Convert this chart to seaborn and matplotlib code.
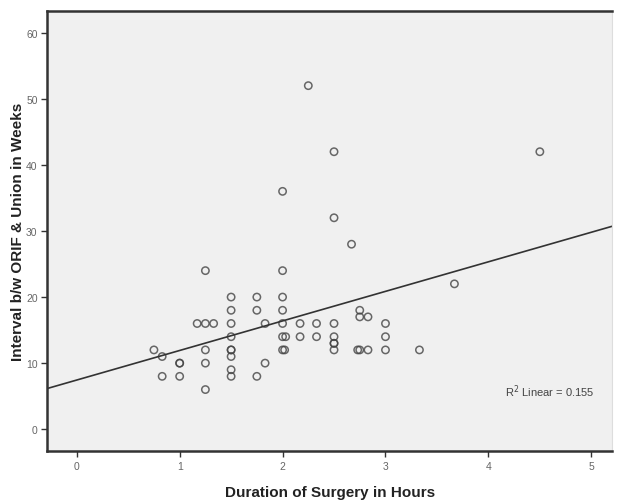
import matplotlib
matplotlib.use("Agg")
import matplotlib.pyplot as plt
import seaborn as sns
import numpy as np
import pandas as pd

# Duration of surgery (hours) and interval to union (weeks)
duration = [2.25, 2.5, 4.5, 2.0, 2.5, 2.67, 1.25, 2.0, 3.67,
            1.5, 1.75, 2.0,
            1.5, 1.75, 2.0, 2.75,
            2.75, 2.83,
            1.17, 1.25, 1.33, 1.5, 1.83, 2.0, 2.17, 2.33, 2.5, 3.0,
            1.5, 2.0, 2.03, 2.17, 2.33, 2.5, 3.0,
            2.5, 2.5,
            0.75, 1.25, 1.5, 1.5, 2.0, 2.02, 2.5, 2.73, 2.75, 2.83, 3.0, 3.33,
            0.83, 1.5,
            1.0, 1.0, 1.25, 1.83,
            1.5,
            0.83, 1.0, 1.5, 1.75,
            1.25]
weeks = [52, 42, 42, 36, 32, 28, 24, 24, 22,
         20, 20, 20,
         18, 18, 18, 18,
         17, 17,
         16, 16, 16, 16, 16, 16, 16, 16, 16, 16,
         14, 14, 14, 14, 14, 14, 14,
         13, 13,
         12, 12, 12, 12, 12, 12, 12, 12, 12, 12, 12, 12,
         11, 11,
         10, 10, 10, 10,
         9,
         8, 8, 8, 8,
         6]
x_ticks = [0, 1, 2, 3, 4, 5]
y_ticks = [0, 10, 20, 30, 40, 50, 60]
r2_label = "R$^2$ Linear = 0.155"

df = pd.DataFrame({"duration": duration, "weeks": weeks})

sns.set_theme(style="ticks")
plt.rcParams["font.family"] = ["Liberation Sans", "DejaVu Sans"]

fig = plt.figure(figsize=(6.17, 5.02), dpi=100)
fig.patch.set_facecolor("white")
ax = fig.add_axes([0.0767, 0.0996, 0.915, 0.8765])
ax.set_facecolor("#f0f0f0")
ax.set_xlim(-0.286, 5.2)
ax.set_ylim(-3.3, 63.3)

sns.regplot(data=df, x="duration", y="weeks", ax=ax, ci=None, truncate=False,
            scatter_kws=dict(s=28, facecolors="none", edgecolors="#444444",
                             linewidths=1.1),
            line_kws=dict(color="#333333", lw=1.2))

ax.set_xlim(-0.286, 5.2)
ax.set_ylim(-3.3, 63.3)
ax.set_xticks(x_ticks)
ax.set_yticks(y_ticks)
ax.tick_params(axis="both", labelsize=7.5, colors="#333333", labelcolor="#666666",
               length=4, width=1.0, pad=3)
for side in ["left", "bottom", "top"]:
    ax.spines[side].set_color("#333333")
    ax.spines[side].set_linewidth(1.8)
ax.spines["right"].set_color("#dddddd")
ax.spines["right"].set_linewidth(0.8)

ax.set_xlabel("Duration of Surgery in Hours", fontsize=11, fontweight="bold",
              color="#222222", labelpad=10)
ax.set_ylabel("Interval b/w ORIF & Union in Weeks", fontsize=11,
              fontweight="bold", color="#222222", labelpad=0.5)

ax.text(0.889, 0.136, r2_label, transform=ax.transAxes, fontsize=8,
        color="#444444", ha="center", va="center")

fig.savefig("out.png", dpi=100)
